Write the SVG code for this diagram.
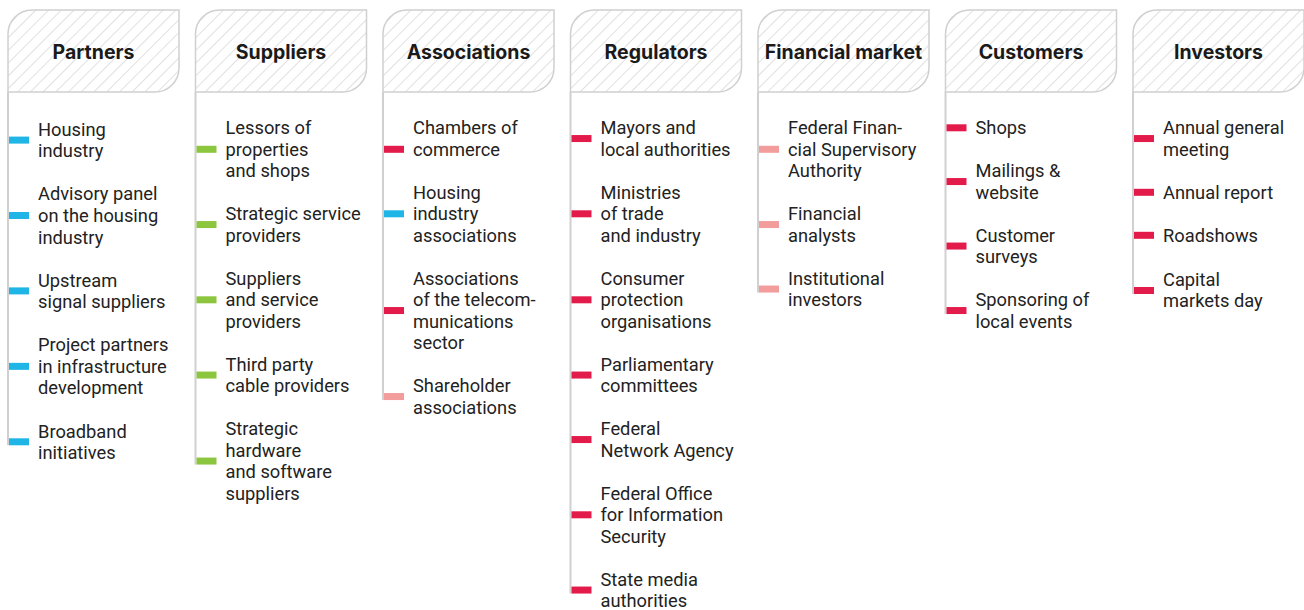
<svg xmlns="http://www.w3.org/2000/svg" width="1304" height="610" viewBox="0 0 1304 610">
<style>
.h{font-family:Inter,"Liberation Sans",sans-serif;font-weight:700;font-size:19.5px;fill:#1a1a1a;text-anchor:middle}
.t{font-family:Roboto,"Liberation Sans",sans-serif;font-size:18.3px;fill:#222}
.hb{fill:url(#hatch);stroke:#d0d0d0;stroke-width:1.5}
.v{stroke:#d0d0d0;stroke-width:2}
.cy{fill:#1fb5e6}.gr{fill:#8cc63e}.rd{fill:#e31b4a}.pk{fill:#f29c9c}
</style>
<defs>
<pattern id="hatch" patternUnits="userSpaceOnUse" width="9" height="9" patternTransform="rotate(45)">
<rect width="9" height="9" fill="#fff"/>
<line x1="0" y1="0" x2="0" y2="9" stroke="#c2c2c2" stroke-width="1"/>
</pattern>
<path id="hdr" d="M1,92 V34 A24,24 0 0 1 25,10 H172 V68 A24,24 0 0 1 148,92 Z"/>
</defs>

<g id="partners" transform="translate(7,0)">
<use href="#hdr" class="hb"/>
<text class="h" x="86.5" y="58.5">Partners</text>
<line class="v" x1="1" y1="92" x2="1" y2="445.3"/>
<rect class="cy" x="2" y="136.6" width="20" height="7"/>
<rect class="cy" x="2" y="212" width="20" height="7"/>
<rect class="cy" x="2" y="287.4" width="20" height="7"/>
<rect class="cy" x="2" y="362.85" width="20" height="7"/>
<rect class="cy" x="2" y="438.3" width="20" height="7"/>
<text class="t"><tspan x="31" y="135.8">Housing</tspan><tspan x="31" y="157.35">industry</tspan></text>
<text class="t"><tspan x="31" y="200.45">Advisory panel</tspan><tspan x="31" y="222">on the housing</tspan><tspan x="31" y="243.55">industry</tspan></text>
<text class="t"><tspan x="31" y="286.65">Upstream</tspan><tspan x="31" y="308.2">signal suppliers</tspan></text>
<text class="t"><tspan x="31" y="351.3">Project partners</tspan><tspan x="31" y="372.85">in infrastructure</tspan><tspan x="31" y="394.4">development</tspan></text>
<text class="t"><tspan x="31" y="437.5">Broadband</tspan><tspan x="31" y="459.05">initiatives</tspan></text>
</g>

<g id="suppliers" transform="translate(194.5,0)">
<use href="#hdr" class="hb"/>
<text class="h" x="86.5" y="58.5">Suppliers</text>
<line class="v" x1="1" y1="92" x2="1" y2="464.55"/>
<rect class="gr" x="2" y="145.8" width="20" height="7"/>
<rect class="gr" x="2" y="221.05" width="20" height="7"/>
<rect class="gr" x="2" y="296.3" width="20" height="7"/>
<rect class="gr" x="2" y="371.55" width="20" height="7"/>
<rect class="gr" x="2" y="457.55" width="20" height="7"/>
<text class="t"><tspan x="31" y="134.3">Lessors of</tspan><tspan x="31" y="155.8">properties</tspan><tspan x="31" y="177.3">and shops</tspan></text>
<text class="t"><tspan x="31" y="220.3">Strategic service</tspan><tspan x="31" y="241.8">providers</tspan></text>
<text class="t"><tspan x="31" y="284.8">Suppliers</tspan><tspan x="31" y="306.3">and service</tspan><tspan x="31" y="327.8">providers</tspan></text>
<text class="t"><tspan x="31" y="370.8">Third party</tspan><tspan x="31" y="392.3">cable providers</tspan></text>
<text class="t"><tspan x="31" y="435.3">Strategic</tspan><tspan x="31" y="456.8">hardware</tspan><tspan x="31" y="478.3">and software</tspan><tspan x="31" y="499.8">suppliers</tspan></text>
</g>

<g id="associations" transform="translate(382,0)">
<use href="#hdr" class="hb"/>
<text class="h" x="86.5" y="58.5">Associations</text>
<line class="v" x1="1" y1="92" x2="1" y2="400"/>
<rect class="rd" x="2" y="145.8" width="20" height="7"/>
<rect class="cy" x="2" y="210.3" width="20" height="7"/>
<rect class="rd" x="2" y="307.05" width="20" height="7"/>
<rect class="pk" x="2" y="393.05" width="20" height="7"/>
<text class="t"><tspan x="31" y="134.3">Chambers of</tspan><tspan x="31" y="155.8">commerce</tspan></text>
<text class="t"><tspan x="31" y="198.8">Housing</tspan><tspan x="31" y="220.3">industry</tspan><tspan x="31" y="241.8">associations</tspan></text>
<text class="t"><tspan x="31" y="284.8">Associations</tspan><tspan x="31" y="306.3">of the telecom-</tspan><tspan x="31" y="327.8">munications</tspan><tspan x="31" y="349.3">sector</tspan></text>
<text class="t"><tspan x="31" y="392.3">Shareholder</tspan><tspan x="31" y="413.8">associations</tspan></text>
</g>

<g id="regulators" transform="translate(569.5,0)">
<use href="#hdr" class="hb"/>
<text class="h" x="86.5" y="58.5">Regulators</text>
<line class="v" x1="1" y1="92" x2="1" y2="593.5"/>
<rect class="rd" x="2" y="135.05" width="20" height="7"/>
<rect class="rd" x="2" y="210.3" width="20" height="7"/>
<rect class="rd" x="2" y="296.3" width="20" height="7"/>
<rect class="rd" x="2" y="371.55" width="20" height="7"/>
<rect class="rd" x="2" y="436.05" width="20" height="7"/>
<rect class="rd" x="2" y="511.3" width="20" height="7"/>
<rect class="rd" x="2" y="586.55" width="20" height="7"/>
<text class="t"><tspan x="31" y="134.3">Mayors and</tspan><tspan x="31" y="155.8">local authorities</tspan></text>
<text class="t"><tspan x="31" y="198.8">Ministries</tspan><tspan x="31" y="220.3">of trade</tspan><tspan x="31" y="241.8">and industry</tspan></text>
<text class="t"><tspan x="31" y="284.8">Consumer</tspan><tspan x="31" y="306.3">protection</tspan><tspan x="31" y="327.8">organisations</tspan></text>
<text class="t"><tspan x="31" y="370.8">Parliamentary</tspan><tspan x="31" y="392.3">committees</tspan></text>
<text class="t"><tspan x="31" y="435.3">Federal</tspan><tspan x="31" y="456.8">Network Agency</tspan></text>
<text class="t"><tspan x="31" y="499.8">Federal Office</tspan><tspan x="31" y="521.3">for Information</tspan><tspan x="31" y="542.8">Security</tspan></text>
<text class="t"><tspan x="31" y="585.8">State media</tspan><tspan x="31" y="607.3">authorities</tspan></text>
</g>

<g id="financial-market" transform="translate(757,0)">
<use href="#hdr" class="hb"/>
<text class="h" x="86.5" y="58.5">Financial market</text>
<line class="v" x1="1" y1="92" x2="1" y2="292.5"/>
<rect class="pk" x="2" y="145.8" width="20" height="7"/>
<rect class="pk" x="2" y="221.05" width="20" height="7"/>
<rect class="pk" x="2" y="285.55" width="20" height="7"/>
<text class="t"><tspan x="31" y="134.3">Federal Finan-</tspan><tspan x="31" y="155.8">cial Supervisory</tspan><tspan x="31" y="177.3">Authority</tspan></text>
<text class="t"><tspan x="31" y="220.3">Financial</tspan><tspan x="31" y="241.8">analysts</tspan></text>
<text class="t"><tspan x="31" y="284.8">Institutional</tspan><tspan x="31" y="306.3">investors</tspan></text>
</g>

<g id="customers" transform="translate(944.5,0)">
<use href="#hdr" class="hb"/>
<text class="h" x="86.5" y="58.5">Customers</text>
<line class="v" x1="1" y1="92" x2="1" y2="314"/>
<rect class="rd" x="2" y="124.3" width="20" height="7"/>
<rect class="rd" x="2" y="178.05" width="20" height="7"/>
<rect class="rd" x="2" y="242.55" width="20" height="7"/>
<rect class="rd" x="2" y="307.05" width="20" height="7"/>
<text class="t"><tspan x="31" y="134.3">Shops</tspan></text>
<text class="t"><tspan x="31" y="177.3">Mailings &amp;</tspan><tspan x="31" y="198.8">website</tspan></text>
<text class="t"><tspan x="31" y="241.8">Customer</tspan><tspan x="31" y="263.3">surveys</tspan></text>
<text class="t"><tspan x="31" y="306.3">Sponsoring of</tspan><tspan x="31" y="327.8">local events</tspan></text>
</g>

<g id="investors" transform="translate(1132,0)">
<use href="#hdr" class="hb"/>
<text class="h" x="86.5" y="58.5">Investors</text>
<line class="v" x1="1" y1="92" x2="1" y2="294"/>
<rect class="rd" x="2" y="135.05" width="20" height="7"/>
<rect class="rd" x="2" y="188.8" width="20" height="7"/>
<rect class="rd" x="2" y="231.8" width="20" height="7"/>
<rect class="rd" x="2" y="287" width="20" height="7"/>
<text class="t"><tspan x="31" y="134.3">Annual general</tspan><tspan x="31" y="155.8">meeting</tspan></text>
<text class="t"><tspan x="31" y="198.8">Annual report</tspan></text>
<text class="t"><tspan x="31" y="241.8">Roadshows</tspan></text>
<text class="t"><tspan x="31" y="285.5">Capital</tspan><tspan x="31" y="307">markets day</tspan></text>
</g>

<g id="connectors"></g>
</svg>
